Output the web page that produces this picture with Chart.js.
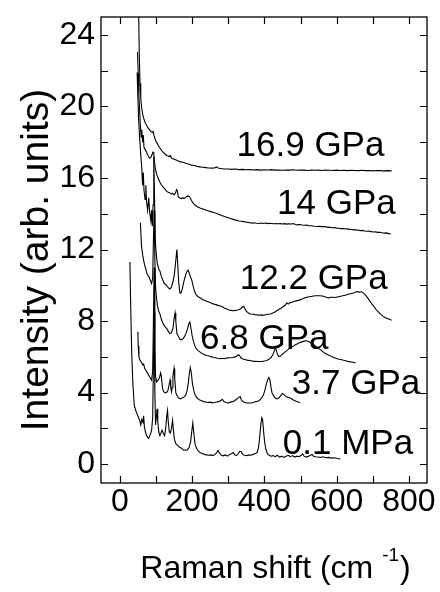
<!DOCTYPE html>
<html>
<head>
<meta charset="utf-8">
<script src="https://cdn.jsdelivr.net/npm/chart.js@4/dist/chart.umd.min.js"></script>
<style>
  html, body { margin: 0; padding: 0; background: #fff; }
  canvas { display: block; }
</style>
</head>
<body>
<canvas id="raman" width="440" height="592"></canvas>
<script>
// Raman spectra at several pressures, offset vertically  [shift cm-1, intensity]
const spec01MPa = [
  [28, 11.3], [30, 9.0], [33, 6.2], [36, 4.6], [40, 3.3], [44, 3.0], [48, 2.8], [52, 2.6], [55, 2.45],
  [58, 2.2], [61, 2.5], [64, 2.35], [66, 2.7], [68, 2.1], [71, 1.8], [74, 1.6], [77, 1.5], [80, 1.45],
  [83, 1.6], [86, 1.75], [88, 1.9], [91, 2.6], [93, 5.5], [95, 8.5], [97, 4.0], [99, 2.2], [101, 2.6],
  [103, 3.1], [105, 2.4], [108, 1.8], [111, 1.6], [114, 1.75], [117, 1.9], [120, 1.75], [124, 1.6],
  [127, 2.0], [130, 2.7], [132, 3.0], [134, 2.4], [137, 1.8], [140, 1.75], [143, 2.0], [146, 2.45],
  [148, 2.0], [151, 1.4], [155, 1.15], [160, 1.05], [165, 0.95], [171, 0.9], [176, 0.8], [182, 0.78],
  [187, 0.8], [192, 0.95], [196, 1.25], [199, 1.8], [202, 2.3], [205, 1.7], [208, 1.15], [212, 0.9],
  [217, 0.75], [222, 0.65], [228, 0.6], [234, 0.55], [240, 0.52], [246, 0.5], [252, 0.52], [258, 0.48],
  [264, 0.55], [268, 0.65], [272, 0.78], [276, 0.62], [281, 0.5], [286, 0.47], [292, 0.52], [298, 0.45],
  [304, 0.55], [310, 0.6], [314, 0.65], [318, 0.52], [323, 0.48], [328, 0.6], [332, 0.72], [336, 0.7],
  [340, 0.55], [345, 0.5], [351, 0.48], [357, 0.52], [363, 0.5], [369, 0.55], [375, 0.6], [380, 0.65],
  [384, 0.95], [387, 1.5], [390, 2.2], [393, 2.6], [395, 2.5], [398, 1.8], [401, 1.2], [404, 0.85],
  [408, 0.6], [413, 0.5], [418, 0.45], [424, 0.48], [430, 0.42], [436, 0.5], [442, 0.4], [448, 0.45],
  [454, 0.38], [460, 0.44], [466, 0.5], [472, 0.42], [478, 0.48], [484, 0.4], [490, 0.45], [496, 0.42],
  [502, 0.5], [506, 0.58], [510, 0.45], [516, 0.4], [522, 0.45], [528, 0.5], [532, 0.55], [536, 0.45],
  [542, 0.42], [548, 0.4], [555, 0.38], [562, 0.42], [570, 0.36], [578, 0.38], [586, 0.34], [594, 0.36],
  [602, 0.32], [610, 0.3]
];
const spec3_7GPa = [
  [50, 7.4], [51, 6.6], [53, 6.0], [56, 5.8], [60, 5.7], [63, 5.55], [66, 5.6], [69, 5.35], [72, 5.25],
  [75, 5.15], [78, 5.05], [82, 4.9], [85, 4.8], [88, 4.7], [91, 5.2], [93, 8.0], [95, 11.0], [97, 6.5],
  [99, 4.9], [102, 4.6], [106, 4.7], [110, 4.85], [113, 5.1], [115, 4.9], [118, 4.3], [121, 4.05],
  [125, 4.0], [129, 4.0], [133, 4.1], [136, 4.4], [139, 4.7], [141, 4.3], [143, 4.05], [145, 4.3],
  [147, 4.9], [150, 5.35], [152, 4.8], [155, 4.0], [159, 3.8], [163, 3.7], [167, 3.65], [172, 3.7],
  [177, 3.75], [182, 3.85], [186, 4.1], [189, 4.45], [192, 5.0], [195, 5.4], [198, 5.1], [201, 4.5],
  [205, 4.1], [209, 3.85], [214, 3.7], [220, 3.6], [226, 3.55], [232, 3.5], [238, 3.48], [244, 3.45],
  [250, 3.47], [256, 3.43], [262, 3.45], [268, 3.48], [274, 3.5], [280, 3.58], [284, 3.62], [288, 3.5],
  [294, 3.45], [300, 3.43], [306, 3.47], [312, 3.5], [318, 3.55], [322, 3.62], [326, 3.68], [330, 3.75],
  [333, 3.78], [336, 3.62], [340, 3.5], [346, 3.45], [352, 3.43], [358, 3.42], [364, 3.43], [370, 3.45],
  [376, 3.5], [382, 3.52], [388, 3.6], [393, 3.72], [397, 3.85], [401, 4.1], [405, 4.45], [409, 4.7],
  [412, 4.85], [415, 4.75], [418, 4.35], [421, 4.0], [425, 3.85], [430, 3.7], [435, 3.65], [440, 3.7],
  [445, 3.82], [450, 3.95], [453, 3.92], [458, 3.82], [464, 3.75], [470, 3.72], [476, 3.65], [482, 3.58],
  [488, 3.52], [494, 3.48], [499, 3.45]
];
const spec6_8GPa = [
  [57, 13.5], [60, 12.2], [64, 11.6], [68, 11.2], [72, 10.9], [76, 10.6], [80, 10.5], [84, 10.3],
  [88, 10.1], [91, 10.4], [93, 12.5], [95, 14.2], [97, 11.5], [99, 9.9], [101, 9.4], [104, 8.9],
  [107, 8.6], [111, 8.4], [115, 8.1], [119, 7.9], [123, 7.75], [127, 7.65], [131, 7.55], [135, 7.4],
  [139, 7.3], [143, 7.35], [147, 7.6], [150, 8.1], [153, 8.45], [155, 8.0], [158, 7.3], [162, 7.15],
  [166, 7.0], [170, 6.95], [174, 7.0], [178, 7.1], [183, 7.3], [187, 7.55], [191, 7.85], [194, 7.95],
  [197, 7.6], [200, 7.2], [204, 6.85], [208, 6.6], [212, 6.45], [217, 6.35], [223, 6.25], [229, 6.18],
  [235, 6.12], [241, 6.08], [247, 6.05], [253, 6.0], [259, 5.98], [265, 5.95], [271, 5.92], [277, 5.9],
  [283, 5.92], [289, 5.9], [295, 5.93], [301, 5.95], [307, 5.95], [313, 5.97], [319, 6.0], [324, 6.05],
  [328, 6.12], [331, 6.08], [335, 5.95], [340, 5.88], [346, 5.85], [352, 5.82], [358, 5.8], [364, 5.78],
  [370, 5.75], [376, 5.75], [382, 5.74], [388, 5.74], [394, 5.75], [400, 5.77], [406, 5.8], [412, 5.85],
  [418, 5.95], [423, 6.1], [427, 6.3], [430, 6.45], [433, 6.4], [436, 6.15], [440, 6.02], [445, 6.05],
  [450, 6.15], [456, 6.25], [462, 6.35], [468, 6.45], [474, 6.52], [480, 6.6], [486, 6.68], [492, 6.74],
  [498, 6.8], [504, 6.84], [510, 6.88], [516, 6.9], [522, 6.86], [528, 6.8], [534, 6.72], [540, 6.62],
  [546, 6.52], [552, 6.45], [558, 6.35], [564, 6.25], [570, 6.18], [576, 6.12], [582, 6.07], [590, 5.98],
  [598, 5.92], [606, 5.87], [614, 5.84], [622, 5.8], [630, 5.76], [638, 5.72], [646, 5.7], [652, 5.66]
];
const spec12_2GPa = [
  [48, 21.9], [50, 20.5], [52, 19.3], [55, 18.2], [58, 17.3], [61, 16.5], [63, 15.6], [65, 16.3],
  [67, 15.3], [70, 14.8], [72, 15.6], [74, 14.7], [77, 14.2], [80, 14.9], [83, 14.0], [86, 13.6],
  [88, 14.2], [90, 13.3], [92, 14.5], [94, 17.2], [96, 15.0], [98, 12.6], [101, 11.7], [104, 11.2],
  [108, 10.9], [111, 10.8], [115, 10.5], [119, 10.3], [123, 10.1], [127, 10.05], [131, 9.95], [135, 9.85],
  [139, 9.8], [143, 9.9], [147, 10.2], [151, 10.6], [155, 11.4], [158, 12.0], [160, 11.3], [163, 10.2],
  [166, 9.6], [169, 9.55], [173, 9.8], [177, 10.2], [181, 10.5], [185, 10.75], [189, 10.85], [192, 10.7],
  [195, 10.5], [199, 10.3], [203, 9.95], [207, 9.65], [212, 9.45], [218, 9.35], [224, 9.28], [230, 9.2],
  [236, 9.15], [242, 9.1], [248, 9.05], [254, 9.0], [260, 8.95], [266, 8.92], [272, 8.88], [278, 8.85],
  [284, 8.8], [290, 8.72], [296, 8.68], [302, 8.62], [308, 8.6], [314, 8.58], [320, 8.6], [326, 8.62],
  [332, 8.66], [336, 8.72], [340, 8.8], [343, 8.82], [346, 8.7], [350, 8.55], [356, 8.45], [362, 8.4],
  [368, 8.38], [374, 8.36], [380, 8.35], [386, 8.33], [392, 8.35], [398, 8.33], [404, 8.36], [410, 8.38],
  [416, 8.4], [422, 8.44], [428, 8.5], [434, 8.58], [440, 8.65], [446, 8.72], [452, 8.8], [458, 8.9],
  [462, 9.02], [466, 8.95], [470, 9.02], [476, 9.05], [482, 9.1], [488, 9.13], [494, 9.16], [500, 9.2],
  [506, 9.25], [512, 9.3], [518, 9.33], [524, 9.36], [530, 9.38], [536, 9.4], [542, 9.42], [548, 9.42],
  [554, 9.42], [560, 9.4], [566, 9.38], [572, 9.32], [578, 9.3], [584, 9.33], [590, 9.33], [596, 9.32],
  [602, 9.35], [608, 9.38], [614, 9.4], [620, 9.43], [626, 9.46], [632, 9.5], [638, 9.53], [644, 9.56],
  [650, 9.6], [656, 9.65], [662, 9.62], [668, 9.64], [674, 9.58], [680, 9.45], [686, 9.3], [692, 9.12],
  [698, 8.95], [704, 8.8], [710, 8.62], [716, 8.5], [722, 8.38], [728, 8.28], [734, 8.2], [740, 8.15],
  [746, 8.1], [752, 8.05]
];
const spec14GPa = [
  [49, 23.05], [51, 21.8], [53, 20.6], [55, 19.7], [57, 18.9], [59, 18.3], [61, 18.7], [63, 18.0],
  [65, 18.4], [67, 17.7], [70, 17.6], [74, 17.45], [78, 17.25], [82, 17.1], [86, 17.15], [89, 17.3],
  [92, 17.45], [94, 17.4], [96, 16.9], [99, 16.45], [102, 16.2], [106, 16.0], [110, 15.8], [114, 15.65],
  [118, 15.55], [122, 15.45], [126, 15.35], [130, 15.25], [134, 15.2], [138, 15.18], [142, 15.1],
  [146, 15.15], [150, 15.05], [154, 15.15], [157, 15.35], [159, 15.3], [162, 14.95], [166, 14.88],
  [170, 14.85], [174, 14.9], [178, 14.85], [182, 14.92], [186, 14.98], [190, 15.0], [193, 14.95],
  [197, 14.8], [201, 14.65], [205, 14.55], [210, 14.45], [216, 14.38], [222, 14.32], [228, 14.28],
  [234, 14.24], [240, 14.2], [246, 14.16], [252, 14.12], [258, 14.08], [264, 14.04], [270, 14.0],
  [276, 13.95], [282, 13.9], [288, 13.86], [294, 13.82], [300, 13.78], [306, 13.74], [312, 13.7],
  [318, 13.66], [324, 13.63], [330, 13.6], [336, 13.58], [342, 13.56], [348, 13.54], [354, 13.52],
  [360, 13.5], [366, 13.48], [372, 13.5], [378, 13.47], [384, 13.46], [390, 13.48], [396, 13.46],
  [402, 13.48], [408, 13.45], [414, 13.47], [420, 13.46], [426, 13.44], [432, 13.46], [438, 13.44],
  [444, 13.45], [450, 13.43], [456, 13.45], [462, 13.42], [468, 13.44], [474, 13.43], [480, 13.45],
  [486, 13.4], [492, 13.38], [498, 13.4], [504, 13.37], [510, 13.36], [516, 13.37], [522, 13.34],
  [528, 13.33], [534, 13.32], [540, 13.3], [546, 13.29], [552, 13.3], [558, 13.28], [564, 13.29],
  [570, 13.27], [576, 13.24], [582, 13.25], [588, 13.22], [594, 13.23], [600, 13.2], [606, 13.19],
  [612, 13.17], [618, 13.18], [624, 13.15], [630, 13.16], [636, 13.13], [642, 13.12], [648, 13.1],
  [654, 13.1], [660, 13.08], [666, 13.06], [672, 13.07], [678, 13.04], [684, 13.02], [690, 13.03],
  [696, 13.0], [702, 12.98], [708, 12.99], [714, 12.96], [720, 12.97], [726, 12.94], [732, 12.92],
  [738, 12.93], [744, 12.89], [750, 12.87]
];
const spec16_9GPa = [
  [50, 30.0], [52, 25.5], [54, 22.8], [56, 21.3], [58, 20.5], [60, 20.0], [63, 19.6], [66, 19.35],
  [70, 19.1], [74, 18.95], [78, 18.8], [82, 18.7], [86, 18.6], [90, 18.55], [92, 18.6], [95, 18.35],
  [99, 18.1], [103, 17.95], [107, 17.8], [112, 17.65], [117, 17.5], [122, 17.4], [127, 17.3],
  [132, 17.25], [137, 17.2], [140, 17.25], [144, 17.1], [150, 17.05], [156, 17.0], [162, 16.95],
  [168, 16.9], [175, 16.88], [182, 16.82], [190, 16.78], [198, 16.72], [206, 16.7], [214, 16.65],
  [222, 16.62], [230, 16.6], [238, 16.58], [246, 16.56], [254, 16.55], [262, 16.56], [268, 16.62],
  [274, 16.54], [282, 16.52], [290, 16.5], [300, 16.5], [310, 16.48], [320, 16.5], [330, 16.47],
  [340, 16.48], [350, 16.46], [360, 16.47], [370, 16.45], [380, 16.47], [390, 16.44], [400, 16.46],
  [410, 16.45], [420, 16.47], [430, 16.44], [440, 16.45], [450, 16.43], [460, 16.45], [470, 16.44],
  [480, 16.46], [490, 16.43], [500, 16.45], [510, 16.44], [520, 16.42], [530, 16.45], [540, 16.43],
  [550, 16.44], [560, 16.42], [570, 16.44], [580, 16.43], [590, 16.42], [600, 16.44], [610, 16.42],
  [620, 16.43], [630, 16.41], [640, 16.43], [650, 16.42], [660, 16.41], [670, 16.43], [680, 16.41],
  [690, 16.42], [700, 16.4], [710, 16.42], [720, 16.41], [730, 16.4], [740, 16.41], [752, 16.4]
];

const seriesData = [spec01MPa, spec3_7GPa, spec6_8GPa, spec12_2GPa, spec14GPa, spec16_9GPa];
const seriesNames = ['0.1 MPa', '3.7 GPa', '6.8 GPa', '12.2 GPa', '14 GPa', '16.9 GPa'];
// where each pressure label sits (left edge, baseline), in data units
const labelShift = [451, 476, 222, 332, 435, 323];
const labelLevel = [0.56, 3.92, 6.44, 9.8, 14.0, 17.25];

const xTickValues = [0, 100, 200, 300, 400, 500, 600, 700, 800];
const yTickValues = [0, 2, 4, 6, 8, 10, 12, 14, 16, 18, 20, 22, 24];

const FONT = '"Liberation Sans", Arial, Helvetica, sans-serif';

// рамка, внутренние засечки, подписи давлений и названия осей
const framePlugin = {
  id: 'frame',
  afterDraw(chart) {
    const { ctx, chartArea: a, scales } = chart;
    const xs = scales.x, ys = scales.y;
    ctx.save();
    ctx.strokeStyle = '#000';
    ctx.lineWidth = 1.3;
    ctx.strokeRect(a.left, a.top, a.right - a.left, a.bottom - a.top);

    ctx.lineWidth = 1.2;
    const tl = 7;
    ctx.beginPath();
    xTickValues.forEach(v => {
      const px = Math.round(xs.getPixelForValue(v)) + 0.5;
      ctx.moveTo(px, a.bottom); ctx.lineTo(px, a.bottom - tl);
      ctx.moveTo(px, a.top); ctx.lineTo(px, a.top + tl);
    });
    yTickValues.forEach(v => {
      const py = Math.round(ys.getPixelForValue(v)) + 0.5;
      ctx.moveTo(a.left, py); ctx.lineTo(a.left + tl, py);
      ctx.moveTo(a.right, py); ctx.lineTo(a.right - tl, py);
    });
    ctx.stroke();

    // pressure labels
    ctx.fillStyle = '#000';
    ctx.font = '35px ' + FONT;
    ctx.textAlign = 'left';
    ctx.textBaseline = 'alphabetic';
    seriesNames.forEach((name, i) => {
      ctx.fillText(name, xs.getPixelForValue(labelShift[i]), ys.getPixelForValue(labelLevel[i]));
    });

    // y title
    ctx.save();
    ctx.translate(48, 260);
    ctx.rotate(-Math.PI / 2);
    ctx.font = '39px ' + FONT;
    ctx.textAlign = 'center';
    ctx.fillText('Intensity (arb. units)', 0, 0);
    ctx.restore();

    // x title with superscript
    const main = 'Raman shift (cm ';
    const sup = '-1';
    const tail = ')';
    ctx.font = '32px ' + FONT;
    const wMain = ctx.measureText(main).width;
    const wTail = ctx.measureText(tail).width;
    ctx.font = '19px ' + FONT;
    const wSup = ctx.measureText(sup).width;
    const x0 = 275 - (wMain + wSup + wTail) / 2;
    const base = 578;
    ctx.textAlign = 'left';
    ctx.font = '32px ' + FONT;
    ctx.fillText(main, x0, base);
    ctx.font = '19px ' + FONT;
    ctx.fillText(sup, x0 + wMain, base - 17);
    ctx.font = '32px ' + FONT;
    ctx.fillText(tail, x0 + wMain + wSup + 1, base);
    ctx.restore();
  }
};

const ctx = document.getElementById('raman').getContext('2d');
new Chart(ctx, {
  type: 'scatter',
  data: {
    datasets: seriesData.map((pts, i) => ({
      label: seriesNames[i],
      data: pts.map(p => ({ x: p[0], y: p[1] })),
      showLine: true,
      borderColor: '#000',
      borderWidth: 1.1,
      pointRadius: 0,
      tension: 0
    }))
  },
  options: {
    responsive: false,
    animation: false,
    devicePixelRatio: 1,
    layout: { padding: { left: 0, right: 13, top: 17, bottom: 0 } },
    plugins: {
      legend: { display: false },
      tooltip: { enabled: false }
    },
    scales: {
      x: {
        type: 'linear',
        min: -52,
        max: 850,
        afterBuildTicks: s => { s.ticks = xTickValues.map(v => ({ value: v })); },
        afterFit: s => { s.height = 109; s.paddingLeft = 0; s.paddingRight = 0; },
        grid: { display: false, drawTicks: false },
        border: { display: false },
        ticks: {
          padding: 0,
          autoSkip: false,
          maxRotation: 0,
          color: '#000',
          font: { family: FONT, size: 32 },
          callback: v => (v % 200 === 0 ? String(v) : '')
        }
      },
      y: {
        type: 'linear',
        min: -1.05,
        max: 25,
        afterBuildTicks: s => { s.ticks = yTickValues.map(v => ({ value: v })); },
        afterFit: s => { s.width = 101; s.paddingTop = 0; s.paddingBottom = 0; },
        grid: { display: false, drawTicks: false },
        border: { display: false },
        ticks: {
          padding: 6,
          autoSkip: false,
          color: '#000',
          font: { family: FONT, size: 32 },
          callback: v => (v % 4 === 0 ? String(v) : '')
        }
      }
    }
  },
  plugins: [framePlugin]
});
</script>
</body>
</html>
